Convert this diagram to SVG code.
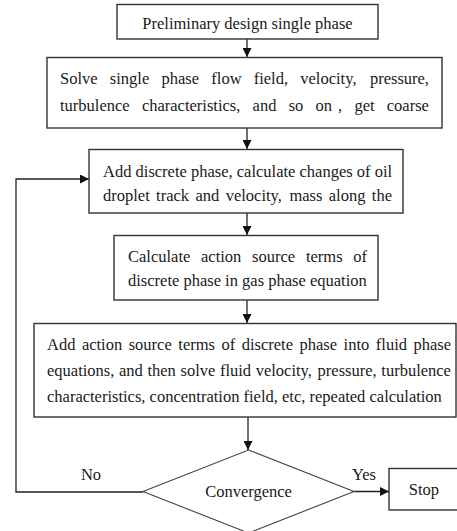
<svg xmlns="http://www.w3.org/2000/svg" width="457" height="531" viewBox="0 0 457 531" font-family="'Liberation Serif', 'Times New Roman', 'DejaVu Serif', serif">
<defs>
<marker id="ah" viewBox="0 0 10 10" refX="10" refY="5" markerWidth="9" markerHeight="9" markerUnits="userSpaceOnUse" orient="auto">
<path d="M0,0 L10,5 L0,10 Z" fill="#111"/>
</marker>
</defs>
<style>
.box{fill:#fff;stroke:#333;stroke-width:1.4}
.dia{fill:#fff;stroke:#444;stroke-width:1.1}
.t{font-family:'Liberation Serif','Times New Roman','DejaVu Serif',serif;font-size:16.5px;fill:#1a1a1a}
.c{text-anchor:middle}
.ln{fill:none;stroke:#222;stroke-width:1.3}
</style>
<rect width="457" height="531" fill="#fff"/>
<g id="connectors">
<line class="ln" x1="247" y1="39" x2="247" y2="57" marker-end="url(#ah)"/>
<line class="ln" x1="247" y1="128" x2="247" y2="149" marker-end="url(#ah)"/>
<line class="ln" x1="247" y1="213" x2="247" y2="235" marker-end="url(#ah)"/>
<line class="ln" x1="247" y1="300" x2="247" y2="323" marker-end="url(#ah)"/>
<line class="ln" x1="248" y1="417" x2="248" y2="450" marker-end="url(#ah)"/>
<line class="ln" x1="354" y1="491.5" x2="389" y2="491.5" marker-end="url(#ah)"/>
<polyline class="ln" points="143,492 16,492 16,179 89,179" marker-end="url(#ah)"/>
<text class="t c" x="91" y="480">No</text>
<text class="t c" x="364" y="480">Yes</text>
</g>
<g id="n1">
<rect class="box" x="117" y="4.5" width="261" height="34.5"/>
<text class="t c" x="247.5" y="29">Preliminary design single phase</text>
</g>
<g id="n2">
<rect class="box" x="47" y="57.5" width="395" height="70.5"/>
<text class="t" y="84"><tspan x="60">Solve</tspan><tspan x="109.8">single</tspan><tspan x="161.5">phase</tspan><tspan x="211.3">flow</tspan><tspan x="253.7">field,</tspan><tspan x="300.3">velocity,</tspan><tspan x="369.9">pressure,</tspan></text>
<text class="t" y="111"><tspan x="60">turbulence</tspan><tspan x="141.9">characteristics,</tspan><tspan x="252.6">and</tspan><tspan x="288.7">so</tspan><tspan x="315.6">on</tspan><tspan x="338.1">,</tspan><tspan x="354.4">get</tspan><tspan x="386.8">coarse</tspan></text>
</g>
<g id="n3">
<rect class="box" x="89" y="149.5" width="314" height="63.5"/>
<text class="t" x="103" y="177">Add discrete phase, calculate changes of oil</text>
<text class="t" y="201"><tspan x="103">droplet</tspan><tspan x="156.1">track</tspan><tspan x="195.5">and</tspan><tspan x="225.7">velocity,</tspan><tspan x="289.4">mass</tspan><tspan x="328.8">along</tspan><tspan x="371.8">the</tspan></text>
</g>
<g id="n4">
<rect class="box" x="114" y="235.5" width="264" height="64.5"/>
<text class="t" y="262"><tspan x="128">Calculate</tspan><tspan x="201">action</tspan><tspan x="252.1">source</tspan><tspan x="305.9">terms</tspan><tspan x="353.3">of</tspan></text>
<text class="t" x="128" y="286">discrete phase in gas phase equation</text>
</g>
<g id="n5">
<rect class="box" x="34" y="323.5" width="422" height="93.5"/>
<text class="t" y="350"><tspan x="47">Add</tspan><tspan x="81.9">action</tspan><tspan x="128.7">source</tspan><tspan x="178.3">terms</tspan><tspan x="221.5">of</tspan><tspan x="241.7">discrete</tspan><tspan x="299.5">phase</tspan><tspan x="343.6">into</tspan><tspan x="375.8">fluid</tspan><tspan x="413.4">phase</tspan></text>
<text class="t" y="376"><tspan x="47">equations,</tspan><tspan x="119">and</tspan><tspan x="147.4">then</tspan><tspan x="180.5">solve</tspan><tspan x="219.9">fluid</tspan><tspan x="255.7">velocity,</tspan><tspan x="317.6">pressure,</tspan><tspan x="381.3">turbulence</tspan></text>
<text class="t" x="47" y="402">characteristics, concentration field, etc, repeated calculation</text>
</g>
<g id="n6">
<polygon class="dia" points="248.5,450 354,491.5 248.5,533 143,491.5"/>
<text class="t c" x="248.5" y="497">Convergence</text>
</g>
<g id="n7">
<rect class="box" x="389" y="468.5" width="70" height="41.5"/>
<text class="t c" x="424" y="495">Stop</text>
</g>
</svg>
